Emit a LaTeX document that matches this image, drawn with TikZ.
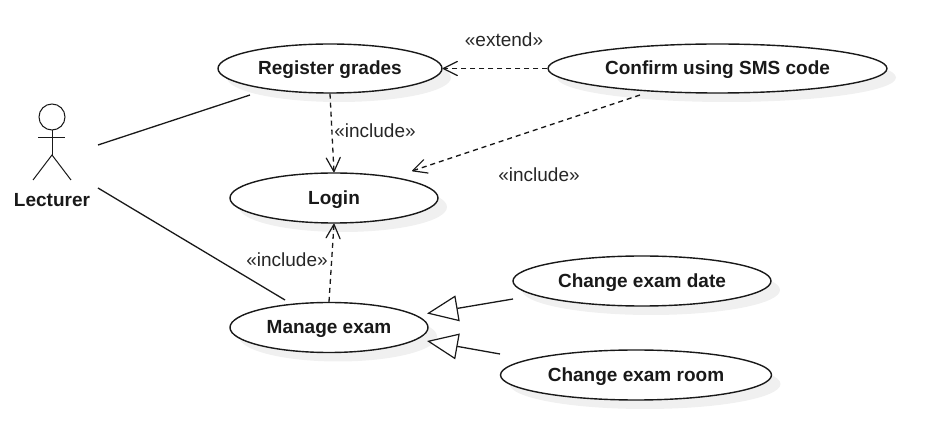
\documentclass[tikz,border=0pt]{standalone}
\usepackage{fontspec}
\setmainfont{Liberation Sans}
\usetikzlibrary{shapes.geometric,shadows,arrows.meta}
\tikzset{
usecase/.style={ellipse,draw=black!90,line width=1.4pt,fill=white,inner sep=0pt,font=\fontsize{19}{22}\selectfont\bfseries,text=black!90,text height=13pt,text depth=0pt,drop shadow={shadow xshift=9pt,shadow yshift=-9pt,fill=black!6,opacity=1}},
actorline/.style={draw=black!90,line width=1pt},
assoc/.style={draw=black!90,line width=1.3pt},
depend/.style={draw=black!90,line width=1.3pt,dash pattern=on 5pt off 4pt,-{Straight Barb[length=14pt,width=14pt,line width=1.2pt,round]}},
general/.style={draw=black!90,line width=1.3pt,-{Triangle[open,length=31pt,width=26pt,line width=1.2pt,fill=white]}},
stereo/.style={font=\fontsize{19}{22}\selectfont,text=black!85,inner sep=0pt},
}
\begin{document}
\begin{tikzpicture}[x=1pt,y=-1pt]
\useasboundingbox (0,0) rectangle (927,438);
\node[usecase,minimum width=224pt,minimum height=49pt] (register) at (330,68.5) {Register grades};
\node[usecase,minimum width=339pt,minimum height=49pt] (confirm) at (717.5,68.5) {Confirm using SMS code};
\node[usecase,minimum width=208pt,minimum height=50pt] (login) at (334,198) {Login};
\node[usecase,minimum width=198pt,minimum height=50pt] (manage) at (329,327.5) {Manage exam};
\node[usecase,minimum width=258pt,minimum height=50pt] (date) at (642,281) {Change exam date};
\node[usecase,minimum width=271pt,minimum height=50pt] (room) at (636,375) {Change exam room};
\node[font=\fontsize{19}{22}\selectfont\bfseries,text=black!90,inner sep=0pt] (lecturer) at (52,200) {Lecturer};
\draw[actorline] (52,117) circle (13);
\draw[actorline] (52,130) -- (52,155);
\draw[actorline] (38,138) -- (65,138);
\draw[actorline] (33,180) -- (52,155) -- (71,180);
\coordinate (lecturerup) at (98,145);
\coordinate (lecturerdown) at (98,188);
\coordinate (registerend) at (250,95);
\coordinate (manageend) at (285,300);
\coordinate (confirmstart) at (640,95);
\coordinate (loginend) at (412,171);
\coordinate (datestart) at (513,299);
\coordinate (datetip) at (427,313.5);
\coordinate (roomstart) at (500,354);
\coordinate (roomtip) at (427,341);
\draw[assoc] (lecturerup) -- (registerend);
\draw[assoc] (lecturerdown) -- (manageend);
\draw[depend] (register.south) -- (login.north);
\draw[depend] (manage.north) -- (login.south);
\draw[depend] (confirm.west) -- (register.east);
\draw[depend] (confirmstart) -- (loginend);
\draw[general] (datestart) -- (datetip);
\draw[general] (roomstart) -- (roomtip);
\node[stereo] (extendlabel) at (504,40) {«extend»};
\node[stereo] (includeone) at (375,131) {«include»};
\node[stereo] (includetwo) at (539,175) {«include»};
\node[stereo] (includethree) at (287,260) {«include»};
\end{tikzpicture}
\end{document}
